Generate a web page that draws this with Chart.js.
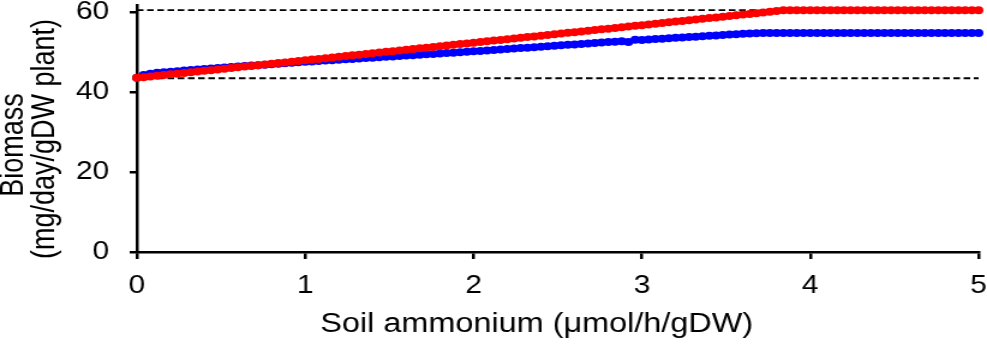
<!DOCTYPE html>
<html>
<head>
<meta charset="utf-8">
<script src="https://cdn.jsdelivr.net/npm/chart.js@4/dist/chart.umd.min.js"></script>
<style>
  html, body { margin: 0; padding: 0; background: #fff; }
  canvas { display: block; }
</style>
</head>
<body>
<canvas id="biomasa_grafica" width="822" height="345" style="width:987px;height:345px"></canvas>
<script>
// soil ammonium values (x)
const amonio = [
  0, 0.04, 0.08, 0.12, 0.16, 0.2, 0.24, 0.28, 0.32, 0.36, 0.4, 0.44, 0.48, 0.52, 0.56, 0.6, 0.64, 0.68, 0.72, 0.76, 0.8, 0.84, 0.88, 0.92, 0.96,
  1, 1.04, 1.08, 1.12, 1.16, 1.2, 1.24, 1.28, 1.32, 1.36, 1.4, 1.44, 1.48, 1.52, 1.56, 1.6, 1.64, 1.68, 1.72, 1.76, 1.8, 1.84, 1.88, 1.92, 1.96,
  2, 2.04, 2.08, 2.12, 2.16, 2.2, 2.24, 2.28, 2.32, 2.36, 2.4, 2.44, 2.48, 2.52, 2.56, 2.6, 2.64, 2.68, 2.72, 2.76, 2.8, 2.84, 2.88, 2.92, 2.96,
  3, 3.04, 3.08, 3.12, 3.16, 3.2, 3.24, 3.28, 3.32, 3.36, 3.4, 3.44, 3.48, 3.52, 3.56, 3.6, 3.64, 3.68, 3.72, 3.76, 3.8, 3.84, 3.88, 3.92, 3.96,
  4, 4.04, 4.08, 4.12, 4.16, 4.2, 4.24, 4.28, 4.32, 4.36, 4.4, 4.44, 4.48, 4.52, 4.56, 4.6, 4.64, 4.68, 4.72, 4.76, 4.8, 4.84, 4.88, 4.92, 4.96,
  5
];

// red series
const biomasa_roja = [
  43.5, 43.68, 43.85, 44.03, 44.2, 44.38, 44.55, 44.73, 44.9, 45.08, 45.26, 45.43, 45.61, 45.78, 45.96, 46.13, 46.31, 46.49, 46.66, 46.84, 47.01, 47.19, 47.36, 47.54, 47.71,
  47.89, 48.07, 48.24, 48.42, 48.59, 48.77, 48.94, 49.12, 49.29, 49.47, 49.65, 49.82, 50.0, 50.17, 50.35, 50.52, 50.7, 50.88, 51.05, 51.23, 51.4, 51.58, 51.75, 51.93, 52.1,
  52.28, 52.46, 52.63, 52.81, 52.98, 53.16, 53.33, 53.51, 53.68, 53.86, 54.04, 54.21, 54.39, 54.56, 54.74, 54.91, 55.09, 55.27, 55.44, 55.62, 55.79, 55.97, 56.14, 56.32, 56.49,
  56.67, 56.85, 57.02, 57.2, 57.37, 57.55, 57.72, 57.9, 58.07, 58.25, 58.43, 58.6, 58.78, 58.95, 59.13, 59.3, 59.48, 59.66, 59.83, 60.01, 60.18, 60.36, 60.4, 60.4, 60.4,
  60.4, 60.4, 60.4, 60.4, 60.4, 60.4, 60.4, 60.4, 60.4, 60.4, 60.4, 60.4, 60.4, 60.4, 60.4, 60.4, 60.4, 60.4, 60.4, 60.4, 60.4, 60.4, 60.4, 60.4, 60.4,
  60.4
];

// blue series
const biomasa_azul = [
  43.5, 44.2, 44.55, 44.75, 44.9, 45.05, 45.18, 45.31, 45.44, 45.56, 45.69, 45.82, 45.95, 46.07, 46.2, 46.32, 46.44, 46.56, 46.68, 46.8, 46.92, 47.04, 47.15, 47.27, 47.38,
  47.5, 47.6, 47.71, 47.81, 47.92, 48.02, 48.12, 48.23, 48.33, 48.44, 48.54, 48.64, 48.75, 48.85, 48.96, 49.06, 49.17, 49.27, 49.38, 49.48, 49.59, 49.69, 49.8, 49.9, 50.01,
  50.12, 50.23, 50.35, 50.46, 50.58, 50.7, 50.81, 50.93, 51.04, 51.16, 51.28, 51.39, 51.51, 51.62, 51.74, 51.86, 51.97, 52.09, 52.2, 52.32, 52.44, 52.55, 52.67, 52.45, 53.0,
  52.96, 53.07, 53.18, 53.29, 53.4, 53.5, 53.6, 53.7, 53.8, 53.9, 54.0, 54.1, 54.2, 54.3, 54.4, 54.5, 54.58, 54.64, 54.68, 54.7, 54.7, 54.7, 54.7, 54.7, 54.7,
  54.7, 54.7, 54.7, 54.7, 54.7, 54.7, 54.7, 54.7, 54.7, 54.7, 54.7, 54.7, 54.7, 54.7, 54.7, 54.7, 54.7, 54.7, 54.7, 54.7, 54.7, 54.7, 54.7, 54.7, 54.7,
  54.7
];

// dashed reference levels
const niveles_referencia = [60.4, 43.4];

const titulo_x = 'Soil ammonium (\u03bcmol/h/gDW)';
const titulo_y = ['Biomass', '(mg/day/gDW plant)'];

const fuente = '"Liberation Sans", Arial, Helvetica, sans-serif';

function puntos(ys) {
  return amonio.map((x, i) => ({ x: x, y: ys[i] }));
}

function linea_nivel(v) {
  return {
    type: 'line',
    data: [{ x: 0, y: v }, { x: 5, y: v }],
    borderColor: '#000',
    borderWidth: 1.8,
    borderDash: [5.5, 3],
    pointRadius: 0,
    fill: false
  };
}

// axis titles drawn by hand so they sit where the original has them
const titulos_ejes = {
  id: 'titulos_ejes',
  afterDraw(chart) {
    const c = chart.ctx;
    c.save();
    c.fillStyle = '#000';
    c.textAlign = 'center';
    c.textBaseline = 'middle';
    c.font = '27px ' + fuente;
    c.fillText(titulo_x, 447, 325);
    c.save();
    c.translate(12, 145);
    c.rotate(-Math.PI / 2);
    c.fillText(titulo_y[0], 0, 0);
    c.restore();
    c.save();
    c.translate(38, 139);
    c.rotate(-Math.PI / 2);
    c.fillText(titulo_y[1], 0, 0);
    c.restore();
    c.restore();
  }
};

const ctx = document.getElementById('biomasa_grafica').getContext('2d');

new Chart(ctx, {
  type: 'scatter',
  data: {
    datasets: [
      {
        data: puntos(biomasa_roja),
        backgroundColor: '#ff0000',
        borderWidth: 0,
        pointRadius: 4,
        clip: false
      },
      {
        data: puntos(biomasa_azul),
        backgroundColor: '#0000ff',
        borderWidth: 0,
        pointRadius: 4,
        clip: false
      },
      linea_nivel(niveles_referencia[0]),
      linea_nivel(niveles_referencia[1])
    ]
  },
  options: {
    responsive: false,
    animation: false,
    layout: { padding: { top: 5, right: 7, left: 0, bottom: 0 } },
    plugins: {
      legend: { display: false },
      tooltip: { enabled: false }
    },
    scales: {
      x: {
        type: 'linear',
        min: 0,
        max: 5,
        ticks: {
          stepSize: 1,
          color: '#000',
          font: { size: 25, family: fuente },
          padding: 12,
          maxRotation: 0
        },
        grid: { drawOnChartArea: false, color: '#000', lineWidth: 2.5, tickLength: 7 },
        border: { color: '#000', width: 2.5 },
        afterFit: (s) => { s.height = 93; s.paddingLeft = 0; s.paddingRight = 0; }
      },
      y: {
        min: 0,
        max: 61.7,
        ticks: {
          stepSize: 20,
          includeBounds: false,
          color: '#000',
          font: { size: 25, family: fuente },
          padding: 17
        },
        grid: { drawOnChartArea: false, color: '#000', lineWidth: 2.5, tickLength: 6 },
        border: { color: '#000', width: 2.5 },
        afterFit: (s) => { s.width = 114; s.paddingTop = 0; s.paddingBottom = 0; }
      }
    }
  },
  plugins: [titulos_ejes]
});
</script>
</body>
</html>
